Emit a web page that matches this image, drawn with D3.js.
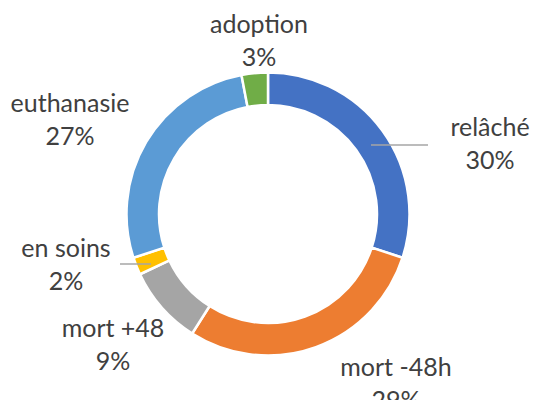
<!DOCTYPE html>
<html lang="fr">
<head>
<meta charset="UTF-8">
<title>Donut</title>
<script src="https://d3js.org/d3.v7.min.js"></script>
<style>
    body { margin: 0; background: #fff; }
    svg { display: block; }
    .lbl { font-family: Lato, "Open Sans", sans-serif; font-size: 25px; fill: #404040; text-anchor: middle; }
</style>
</head>
<body>
<svg width="534" height="400"></svg>
<script>
    // données
    const categories = ["relâché", "mort -48h", "mort +48", "en soins", "euthanasie", "adoption"];
    const values = [30, 29, 9, 2, 27, 3];
    const colors = ["#4472C4", "#ED7D31", "#A5A5A5", "#FFC000", "#5B9BD5", "#70AD47"];
    // position des étiquettes (centre du texte, ligne de base de la 1re ligne)
    const labelPos = [[490, 136], [396, 376], [113, 337], [66, 257], [70, 112], [259, 33]];
    const leaders = { 0: [[371, 145], [428, 145]], 3: [[120, 264], [151, 264]] };

    const svg = d3.select("svg");
    const cx = 268, cy = 214, rOut = 141.5, rIn = 109;

    const data = categories.map((c, i) => ({ cat: c, value: values[i], color: colors[i] }));
    const total = d3.sum(values);

    const pie = d3.pie().value(d => d.value).sort(null);
    const arc = d3.arc().innerRadius(rIn).outerRadius(rOut);

    const g = svg.append("g").attr("transform", `translate(${cx},${cy})`);
    g.selectAll("path")
        .data(pie(data))
        .enter().append("path")
        .attr("d", arc)
        .attr("fill", d => d.data.color)
        .attr("stroke", "#fff")
        .attr("stroke-width", 2.5);

    // traits de rappel
    Object.entries(leaders).forEach(([i, pts]) => {
        svg.append("line")
            .attr("x1", pts[0][0]).attr("y1", pts[0][1])
            .attr("x2", pts[1][0]).attr("y2", pts[1][1])
            .attr("stroke", "#A6A6A6").attr("stroke-width", 1.5);
    });

    // étiquettes
    data.forEach((d, i) => {
        const t = svg.append("text").attr("class", "lbl")
            .attr("x", labelPos[i][0]).attr("y", labelPos[i][1]);
        t.append("tspan").attr("x", labelPos[i][0]).text(d.cat);
        t.append("tspan").attr("x", labelPos[i][0]).attr("dy", 33)
            .text(Math.round(d.value / total * 100) + "%");
    });
</script>
</body>
</html>
